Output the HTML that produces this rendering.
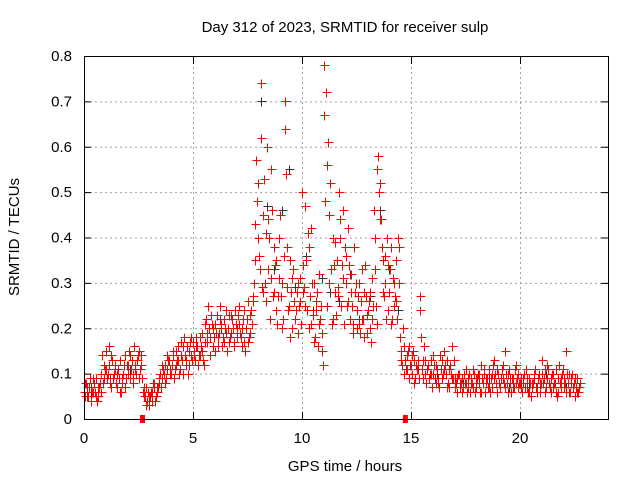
<!DOCTYPE html>
<html><head><meta charset="utf-8"><style>
body{margin:0;background:#fff;}
svg{display:block;font-family:"Liberation Sans",sans-serif;}
</style></head><body>
<svg id="c" width="640" height="480">
<rect width="640" height="480" fill="#fff"/>
<text x="345" y="32" text-anchor="middle" font-size="15">Day 312 of 2023, SRMTID for receiver sulp</text>
<text x="345" y="471" text-anchor="middle" font-size="15">GPS time / hours</text>
<text transform="translate(19,237) rotate(-90)" text-anchor="middle" font-size="15">SRMTID / TECUs</text>
<g id="grid"></g><g id="ticks"></g><g id="pts"></g>
<rect x="84.5" y="56.5" width="524" height="363" fill="none" stroke="#000"/>
</svg>
<script>
const xTicks=[0,5,10,15,20];
const yTicks=[0,0.1,0.2,0.3,0.4,0.5,0.6,0.7,0.8];
const yTickLabels=["0","0.1","0.2","0.3","0.4","0.5","0.6","0.7","0.8"];
const gapMarks=[2.66,14.72];
const trackA=[0.06,0.08,0.05,0.07,0.09,0.06,0.04,0.07,0.10,0.12,
0.15,0.10,0.08,0.13,0.11,0.07,0.09,0.06,0.10,0.14,
0.12,0.09,0.13,0.16,0.10,0.15,0.14,0.06,0.05,0.04,
0.03,0.06,0.08,0.05,0.07,0.10,0.09,0.12,0.11,0.13,
0.10,0.14,0.12,0.16,0.11,0.13,0.18,0.12,0.15,0.14,
0.17,0.13,0.16,0.14,0.19,0.12,0.22,0.25,0.18,0.20,
0.15,0.23,0.19,0.21,0.17,0.24,0.20,0.18,0.22,0.16,
0.20,0.25,0.18,0.22,0.15,0.26,0.19,0.21,0.30,0.57,
0.52,0.74,0.45,0.30,0.60,0.40,0.55,0.28,0.35,0.27,
0.45,0.30,0.70,0.38,0.25,0.28,0.33,0.22,0.30,0.26,
0.50,0.29,0.35,0.20,0.42,0.23,0.18,0.28,0.32,0.15,
0.78,0.72,0.61,0.52,0.40,0.28,0.35,0.50,0.25,0.46,
0.30,0.42,0.22,0.25,0.38,0.20,0.30,0.26,0.22,0.34,
0.19,0.28,0.22,0.46,0.25,0.58,0.52,0.35,0.30,0.40,
0.28,0.38,0.25,0.35,0.40,0.18,0.12,0.10,0.14,0.16,
0.12,0.15,0.09,0.13,0.27,0.11,0.16,0.08,0.12,0.10,
0.14,0.09,0.11,0.07,0.13,0.15,0.10,0.08,0.12,0.16,
0.09,0.06,0.10,0.08,0.07,0.11,0.09,0.06,0.08,0.10,
0.07,0.10,0.12,0.08,0.06,0.09,0.11,0.07,0.13,0.08,
0.10,0.07,0.09,0.15,0.08,0.11,0.06,0.09,0.12,0.07,
0.08,0.06,0.10,0.07,0.09,0.05,0.08,0.11,0.07,0.06,
0.13,0.09,0.07,0.11,0.06,0.10,0.08,0.05,0.12,0.09,
0.07,0.15,0.08,0.06,0.10,0.05,0.09,0.07];
const trackB=[0.08,0.05,0.07,0.04,0.06,0.09,0.05,0.08,0.14,0.09,
0.11,0.16,0.07,0.09,0.12,0.10,0.06,0.08,0.12,0.09,
0.10,0.14,0.08,0.11,0.13,0.09,0.12,0.07,0.03,0.06,
0.05,0.04,0.07,0.06,0.09,0.07,0.11,0.08,0.14,0.10,
0.12,0.09,0.15,0.13,0.17,0.10,0.14,0.16,0.12,0.18,
0.14,0.16,0.12,0.18,0.15,0.21,0.17,0.20,0.23,0.16,
0.21,0.18,0.25,0.16,0.22,0.19,0.17,0.23,0.20,0.24,
0.18,0.21,0.16,0.24,0.20,0.17,0.23,0.27,0.43,0.48,
0.36,0.62,0.28,0.41,0.33,0.22,0.46,0.38,0.24,0.31,
0.27,0.22,0.64,0.29,0.35,0.20,0.26,0.24,0.19,0.31,
0.28,0.47,0.24,0.38,0.21,0.30,0.26,0.16,0.22,0.19,
0.67,0.56,0.45,0.33,0.22,0.39,0.27,0.44,0.34,0.21,
0.36,0.26,0.32,0.19,0.28,0.24,0.21,0.33,0.18,0.27,
0.24,0.20,0.31,0.40,0.55,0.50,0.44,0.28,0.36,0.24,
0.33,0.22,0.30,0.26,0.38,0.15,0.20,0.13,0.11,0.09,
0.14,0.08,0.12,0.11,0.24,0.09,0.13,0.11,0.09,0.13,
0.10,0.12,0.08,0.14,0.09,0.11,0.13,0.07,0.10,0.09,
0.07,0.09,0.08,0.06,0.10,0.08,0.07,0.09,0.11,0.06,
0.09,0.08,0.06,0.10,0.09,0.07,0.06,0.10,0.09,0.11,
0.08,0.09,0.12,0.07,0.10,0.08,0.09,0.07,0.08,0.10,
0.09,0.08,0.07,0.09,0.06,0.08,0.10,0.07,0.09,0.08,
0.10,0.06,0.12,0.08,0.09,0.07,0.11,0.06,0.08,0.10,
0.09,0.06,0.10,0.08,0.07,0.09,0.06,0.08];
const trackC=[0.05,0.07,0.09,0.06,0.08,0.05,0.07,0.06,0.08,0.11,
0.09,0.12,0.14,0.10,0.08,0.11,0.13,0.09,0.07,0.12,
0.15,0.11,0.10,0.12,0.14,0.11,0.09,0.05,0.07,0.05,
0.06,0.08,0.04,0.07,0.08,0.12,0.10,0.09,0.13,0.11,
0.15,0.11,0.13,0.10,0.14,0.16,0.13,0.10,0.17,0.13,
0.15,0.18,0.14,0.16,0.13,0.17,0.19,0.14,0.21,0.18,
0.19,0.16,0.22,0.18,0.20,0.15,0.23,0.19,0.17,0.21,
0.23,0.19,0.20,0.17,0.22,0.18,0.24,0.26,0.35,0.40,
0.33,0.29,0.53,0.26,0.44,0.31,0.27,0.34,0.21,0.40,
0.20,0.36,0.54,0.24,0.18,0.31,0.22,0.28,0.25,0.21,
0.34,0.25,0.41,0.27,0.30,0.17,0.24,0.21,0.25,0.12,
0.48,0.25,0.30,0.21,0.34,0.23,0.29,0.40,0.31,0.38,
0.25,0.34,0.28,0.21,0.30,0.27,0.19,0.22,0.28,0.23,
0.26,0.17,0.25,0.33,0.21,0.44,0.38,0.27,0.22,0.34,
0.21,0.31,0.27,0.22,0.30,0.13,0.16,0.11,0.15,0.12,
0.10,0.13,0.11,0.09,0.18,0.13,0.10,0.12,0.10,0.07,
0.12,0.08,0.09,0.11,0.10,0.12,0.07,0.11,0.09,0.13,
0.08,0.10,0.07,0.09,0.08,0.06,0.10,0.08,0.07,0.09,
0.10,0.06,0.09,0.11,0.08,0.07,0.09,0.12,0.10,0.06,
0.07,0.11,0.08,0.10,0.06,0.09,0.07,0.11,0.09,0.08,
0.07,0.09,0.11,0.06,0.08,0.07,0.09,0.06,0.10,0.08,
0.08,0.11,0.09,0.07,0.10,0.08,0.06,0.09,0.07,0.11,
0.08,0.10,0.06,0.09,0.08,0.07,0.06,0.08];
const grayT=[0.3,1.2,2.1,3.3,4.2,5.4,6.3,7.1,8.1,8.4,8.7,9.1,9.4,9.7,10.2,10.5,10.9,11.3,11.7,12.2,12.6,13.1,13.6,14.0,14.4,15.3,16.2,17.4,18.6,19.5,20.4,21.2,22.1];
const grayV=[0.06,0.09,0.11,0.05,0.12,0.15,0.20,0.21,0.70,0.47,0.33,0.46,0.55,0.29,0.36,0.24,0.31,0.28,0.26,0.32,0.22,0.27,0.46,0.33,0.24,0.12,0.10,0.08,0.09,0.07,0.08,0.10,0.07];
const X=v=>84+v*21.8, Y=v=>419-v*453.75;
const NS="http://www.w3.org/2000/svg";
function mk(tag,attrs,parent){const e=document.createElementNS(NS,tag);for(const k in attrs)e.setAttribute(k,attrs[k]);parent.appendChild(e);return e;}
const grid=document.getElementById('grid'),ticks=document.getElementById('ticks'),pts=document.getElementById('pts');
xTicks.forEach(t=>{const x=X(t)+0.5;
 if(t>0){const g=mk('line',{x1:x,x2:x,y1:57,y2:419,stroke:'#a0a0a0','stroke-dasharray':'2,3'},grid);
 
 }
 mk('line',{x1:x,x2:x,y1:419,y2:412,stroke:'#000'},ticks);mk('line',{x1:x,x2:x,y1:57,y2:64,stroke:'#000'},ticks);
 const l=mk('text',{x:X(t),y:443,'text-anchor':'middle','font-size':'15'},ticks);l.textContent=t;
 
 });
yTicks.forEach((t,i)=>{const y=Y(t)+0.5;
 if(t>0&&t<0.8){const g=mk('line',{x1:85,x2:608,y1:y,y2:y,stroke:'#a0a0a0','stroke-dasharray':'2,3'},grid);
 
 }
 mk('line',{x1:84,x2:91,y1:y,y2:y,stroke:'#000'},ticks);mk('line',{x1:608,x2:601,y1:y,y2:y,stroke:'#000'},ticks);
 const l=mk('text',{x:72,y:Y(t)+5,'text-anchor':'end','font-size':'15'},ticks);l.textContent=yTickLabels[i];
 
 });
function plus(t,v,col,name){const x=Math.round(X(t))+0.5,y=Math.round(Y(v))+0.5;
 const p=mk('path',{d:`M${x-4} ${y}h9M${x} ${y-4}v9`,stroke:col,'stroke-width':1,fill:'none'},pts);
 
 }
grayT.forEach((t,i)=>plus(t,grayV[i],'#333','gray-point'));
trackA.forEach((v,i)=>plus(i*0.1,v,'#f00','red-point'));
trackB.forEach((v,i)=>plus(i*0.1+0.03,v,'#f00','red-point'));
trackC.forEach((v,i)=>plus(i*0.1+0.06,v,'#f00','red-point'));
gapMarks.forEach(t=>{const r=mk('rect',{x:X(t)-2,y:415,width:5,height:8,fill:'#f00'},pts);
 
 });
</script>
</body></html>
